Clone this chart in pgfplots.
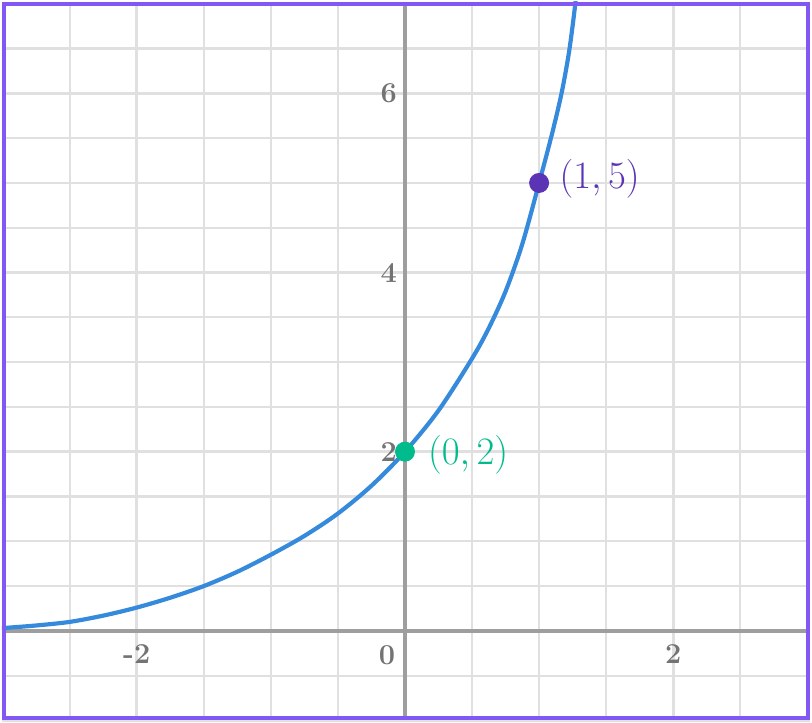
\RequirePackage{fix-cm}
\documentclass[border=0pt]{standalone}
\usepackage{fontspec}
\usepackage{pgfplots}
\pgfplotsset{compat=1.18}
\definecolor{gridc}{RGB}{224,224,224}
\definecolor{axisc}{RGB}{158,158,158}
\definecolor{tickc}{RGB}{115,115,115}
\definecolor{curvec}{RGB}{54,138,220}
\definecolor{greenc}{RGB}{0,188,140}
\definecolor{purplec}{RGB}{90,52,180}
\definecolor{borderc}{RGB}{130,88,245}
\begin{document}
\begin{tikzpicture}
\begin{axis}[
  width=406pt, height=361pt, scale only axis,
  xmin=-3.005, xmax=3.02, ymin=-1, ymax=7.02,
  axis lines=middle,
  axis line style={-, line width=2pt, color=axisc},
  xtick={-2,2}, ytick={2,4,6},
  xticklabels={\textbf{-2},\textbf{2}},
  yticklabels={\textbf{2},\textbf{4},\textbf{6}},
  minor xtick={-3,-2.5,...,3},
  minor ytick={-1,-0.5,...,7},
  grid=both,
  major grid style={line width=1.6pt, color=gridc},
  minor grid style={line width=1.1pt, color=gridc},
  major tick length=0pt, minor tick length=0pt,
  tick label style={font=\fontsize{14.5}{15}\selectfont, text=tickc},
  xticklabel style={anchor=north, yshift=-3.5pt},
  yticklabel style={anchor=east, xshift=-0.6pt},
  clip=true,
]
\addplot[smooth, line width=2.1pt, color=curvec] coordinates {
  (-3.1,0.01) (-3.0,0.03) (-2.75,0.06) (-2.5,0.10) (-2.25,0.17) (-2.0,0.26)
  (-1.75,0.37) (-1.5,0.50) (-1.25,0.66) (-1.0,0.85) (-0.75,1.06) (-0.5,1.31)
  (-0.25,1.62) (0.0,2.0) (0.25,2.46) (0.5,3.04) (0.625,3.38) (0.75,3.79)
  (0.875,4.32) (1.0,5.0) (1.1,5.57) (1.17,6.02) (1.225,6.48) (1.27,7.0) (1.29,7.3)
};
\addplot[only marks, mark=*, mark size=4.8pt, color=greenc] coordinates {(0,2)};
\addplot[only marks, mark=*, mark size=4.8pt, color=purplec] coordinates {(1,5)};
\node[anchor=west, text=greenc, font=\fontsize{19.5}{21}\selectfont] at (axis cs:0.12,1.97) {$(0,2)$};
\node[anchor=west, text=purplec, font=\fontsize{19.5}{21}\selectfont] at (axis cs:1.10,5.05) {$(1,5)$};
\node[text=tickc, font=\fontsize{14.5}{15}\selectfont] at (axis cs:-0.135,-0.27) {\textbf{0}};
\draw[line width=2pt, color=borderc] ([shift={(1pt,1pt)}]rel axis cs:0,0) rectangle ([shift={(-1pt,-1pt)}]rel axis cs:1,1);
\end{axis}
\end{tikzpicture}
\end{document}
